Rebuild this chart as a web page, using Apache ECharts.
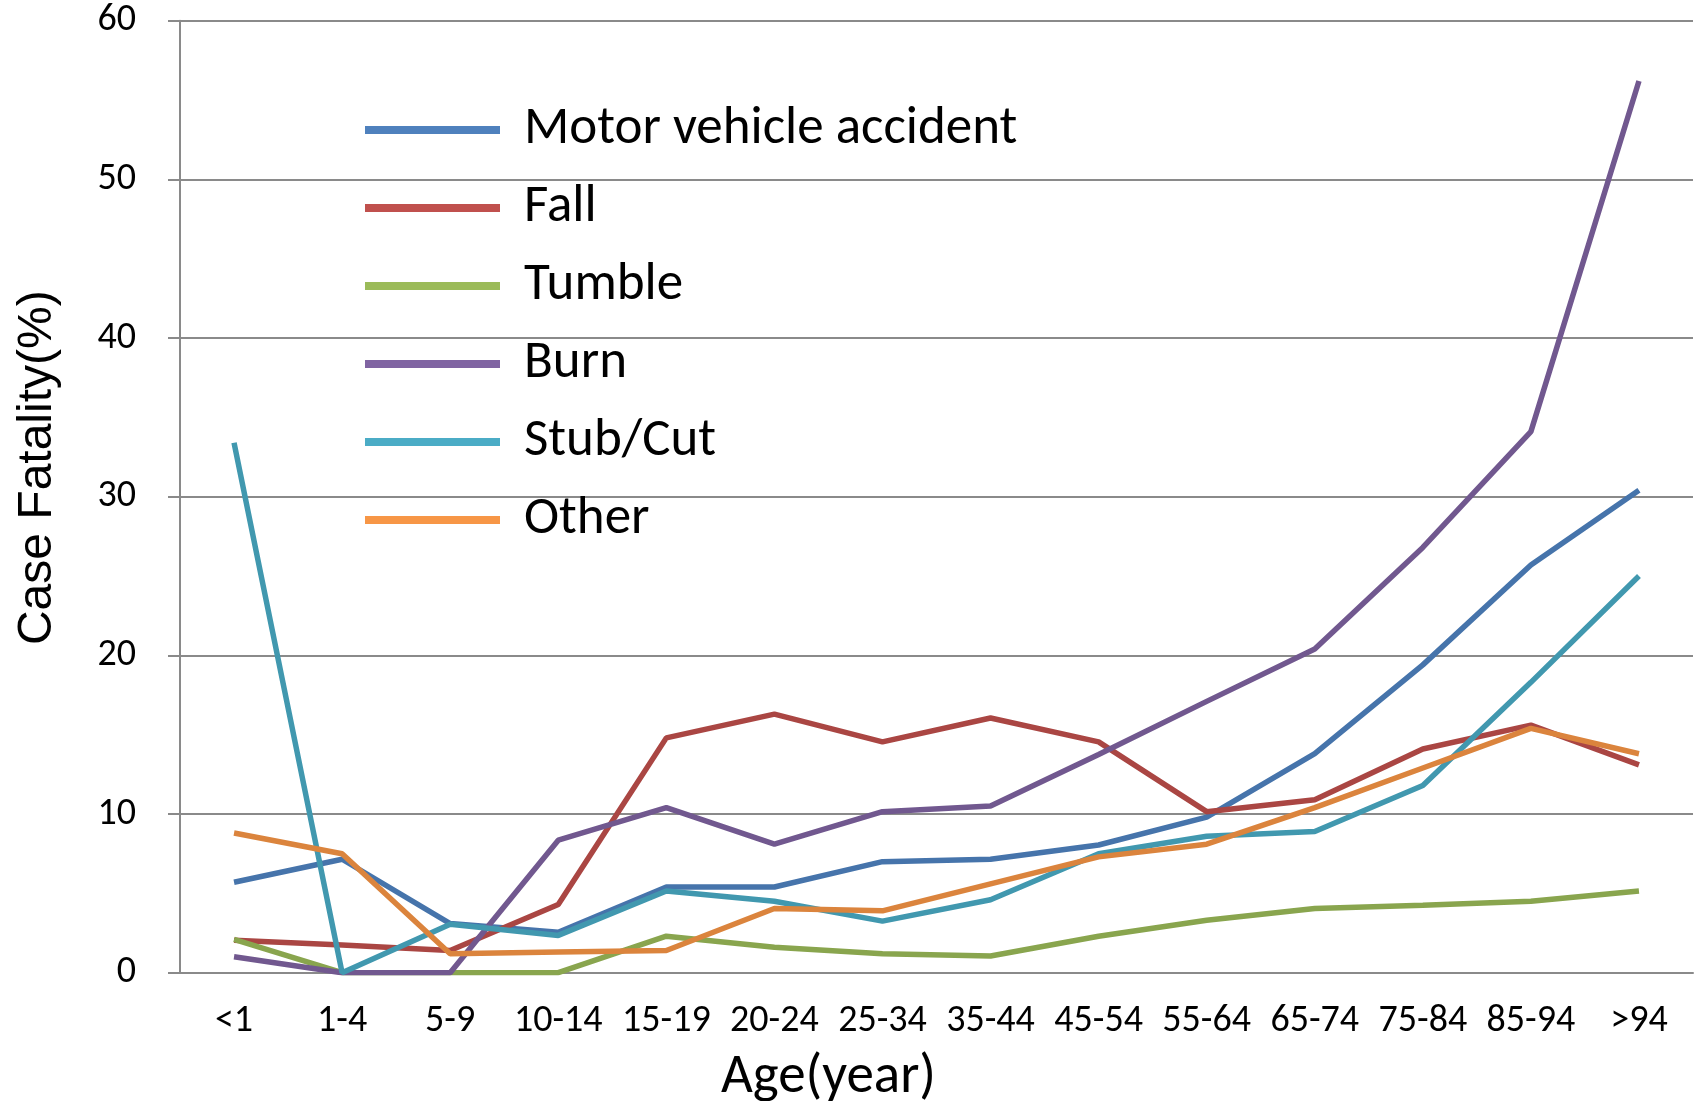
<!DOCTYPE html>
<html>
<head>
<meta charset="utf-8">
<script src="https://cdn.jsdelivr.net/npm/echarts@6/dist/echarts.min.js"></script>
<style>
  html, body { margin: 0; padding: 0; background: #fff; }
  #chart { width: 1698px; height: 1101px; }
</style>
</head>
<body>
<div id="chart"></div>
<script>
// age groups on the x axis
var ageGroups = ['<1', '1-4', '5-9', '10-14', '15-19', '20-24', '25-34', '35-44', '45-54', '55-64', '65-74', '75-84', '85-94', '>94'];

// case fatality (%) per cause
var motorVehicle = [5.7, 7.15, 3.1, 2.55, 5.4, 5.4, 7.0, 7.15, 8.05, 9.8, 13.8, 19.4, 25.7, 30.4];
var fall = [2.05, 1.75, 1.4, 4.3, 14.8, 16.3, 14.55, 16.05, 14.55, 10.15, 10.9, 14.1, 15.6, 13.1];
var tumble = [2.1, 0, 0, 0, 2.3, 1.6, 1.2, 1.05, 2.3, 3.3, 4.05, 4.25, 4.5, 5.15];
var burn = [1.0, 0, 0, 8.35, 10.4, 8.1, 10.15, 10.5, 13.75, 17.1, 20.4, 26.8, 34.1, 56.2];
var stubCut = [33.4, 0, 3.05, 2.35, 5.15, 4.5, 3.25, 4.6, 7.5, 8.6, 8.9, 11.8, 18.3, 25.0];
var other = [8.8, 7.5, 1.2, 1.3, 1.4, 4.05, 3.9, 5.6, 7.3, 8.1, 10.4, 12.9, 15.4, 13.8];

var yTicks = [0, 10, 20, 30, 40, 50, 60];

var causes = ['Motor vehicle accident', 'Fall', 'Tumble', 'Burn', 'Stub/Cut', 'Other'];
var lineColors = ['#4674AB', '#AA4643', '#89A54E', '#71588F', '#4198AF', '#DB843D'];
var keyColors = ['#4F81BD', '#C0504D', '#9BBB59', '#8064A2', '#4BACC6', '#F79646'];

var font = 'Carlito, Lato, sans-serif';
var axisGray = '#8a8a8a';

var myChart = echarts.init(document.getElementById('chart'));

var seriesData = [motorVehicle, fall, tumble, burn, stubCut, other];
var series = causes.map(function (name, i) {
	return {
		name: name,
		type: 'line',
		data: seriesData[i],
		symbol: 'none',
		smooth: false,
		color: lineColors[i],
		lineStyle: { width: 5.5, color: lineColors[i] },
		animation: false
	};
});

var option = {
	animation: false,
	grid: {
		left: 180,
		right: 5,
		top: 20.7,
		bottom: 128.3,
		containLabel: false,
		outerBoundsMode: 'none'
	},
	legend: {
		orient: 'vertical',
		left: 360,
		top: 97,
		icon: 'rect',
		itemWidth: 135,
		itemHeight: 8,
		itemGap: 22,
		data: causes.map(function (name, i) {
			return { name: name, itemStyle: { color: keyColors[i] } };
		}),
		textStyle: {
			fontFamily: font,
			fontSize: 53,
			color: '#000',
			lineHeight: 56,
			padding: [0, 0, 0, 19]
		}
	},
	xAxis: {
		type: 'category',
		data: ageGroups,
		boundaryGap: true,
		axisLine: { show: true, lineStyle: { color: axisGray, width: 2 } },
		axisTick: { show: false },
		axisLabel: {
			fontFamily: font,
			fontSize: 38,
			color: '#000',
			margin: 30,
			interval: 0
		},
		name: 'Age(year)',
		nameLocation: 'middle',
		nameGap: 78,
		nameTextStyle: {
			fontFamily: font,
			fontSize: 55,
			color: '#000',
			padding: [0, 216, 0, 0]
		}
	},
	yAxis: {
		type: 'value',
		min: yTicks[0],
		max: yTicks[yTicks.length - 1],
		interval: 10,
		axisLine: { show: true, lineStyle: { color: axisGray, width: 2 } },
		axisTick: { show: true, inside: false, length: 12, lineStyle: { color: axisGray, width: 2 } },
		splitLine: { show: true, lineStyle: { color: axisGray, width: 2 } },
		axisLabel: {
			fontFamily: font,
			fontSize: 38,
			color: '#000',
			margin: 44
		},
		name: 'Case Fatality(%)',
		nameLocation: 'middle',
		nameRotate: 90,
		nameGap: 118,
		nameTextStyle: {
			fontFamily: '"Liberation Sans", Arial, sans-serif',
			fontSize: 48,
			color: '#000',
			padding: [0, 0, 0, 58]
		}
	},
	series: series
};

myChart.setOption(option);
</script>
</body>
</html>
